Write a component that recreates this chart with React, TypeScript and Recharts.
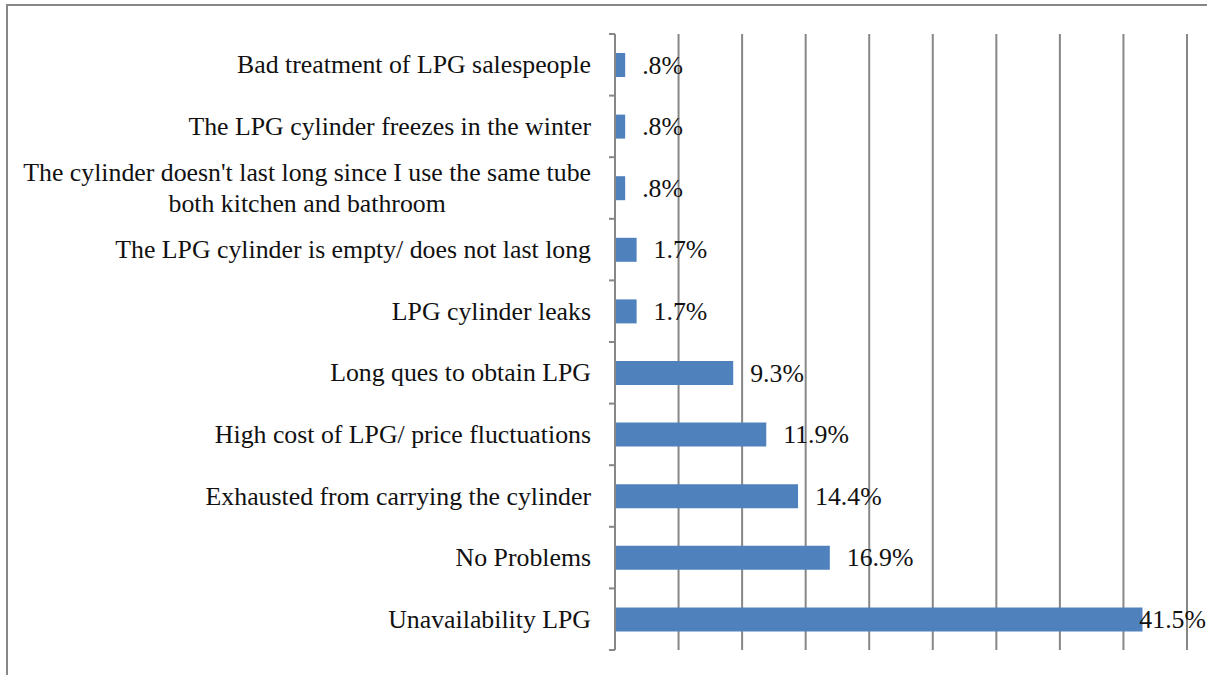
import React, { useLayoutEffect, useRef, useState } from "react";
import { BarChart, Bar, XAxis, YAxis, CartesianGrid, LabelList } from "recharts";

const categories = [
  "Bad treatment of LPG salespeople",
  "The LPG cylinder freezes in the winter",
  "The cylinder doesn't last long since I use the same tube\nboth kitchen and bathroom",
  "The LPG cylinder is empty/ does not last long",
  "LPG cylinder leaks",
  "Long ques to obtain LPG",
  "High cost of LPG/ price fluctuations",
  "Exhausted from carrying the cylinder",
  "No Problems",
  "Unavailability LPG",
];
const values = [0.8, 0.8, 0.8, 1.7, 1.7, 9.3, 11.9, 14.4, 16.9, 41.5];
const xTicks = [0, 5, 10, 15, 20, 25, 30, 35, 40, 45];

const data = categories.map((c, i) => ({ name: c, value: values[i] }));

const W = 1207;
const H = 675;
const M = { top: 34, right: 20, bottom: 25, left: 0 };
const AXIS_W = 615;
const PLOT_H = H - M.top - M.bottom;
const BAND = PLOT_H / categories.length;
const FONT = "'Liberation Serif', 'Times New Roman', serif";
const FS = 25.8;
const GRID = "#878787";

function fmt(v: number) {
  const s = v.toFixed(1);
  return (s.startsWith("0") ? s.slice(1) : s) + "%";
}

function CategoryTick(props: any) {
  const { y, payload, index } = props;
  const axisX = AXIS_W;
  const tx = axisX - 24;
  const lines: string[] = String(payload.value).split("\n");
  const ref = useRef<SVGTextElement>(null);
  const [w1, setW1] = useState(0);
  useLayoutEffect(() => {
    if (ref.current && lines.length > 1) {
      const w = ref.current.getComputedTextLength();
      if (Math.abs(w - w1) > 0.5) setW1(w);
    }
  });
  const lh = 31;
  return (
    <g>
      <line x1={axisX - 6} x2={axisX} y1={y - BAND / 2} y2={y - BAND / 2} stroke={GRID} strokeWidth={2} />
      {index === categories.length - 1 && (
        <line x1={axisX - 6} x2={axisX} y1={y + BAND / 2} y2={y + BAND / 2} stroke={GRID} strokeWidth={2} />
      )}
      {lines.length === 1 ? (
        <text x={tx} y={y} textAnchor="end" dominantBaseline="central" fontFamily={FONT} fontSize={FS} fill="#111">
          {lines[0]}
        </text>
      ) : (
        <g>
          <text ref={ref} x={tx} y={y - lh / 2} textAnchor="end" dominantBaseline="central" fontFamily={FONT} fontSize={FS} fill="#111">
            {lines[0]}
          </text>
          <text x={tx - w1 / 2} y={y + lh / 2} textAnchor="middle" dominantBaseline="central" fontFamily={FONT} fontSize={FS} fill="#111">
            {lines[1]}
          </text>
        </g>
      )}
    </g>
  );
}

function ValueLabel(props: any) {
  const { x, y, width, height, value } = props;
  const end = x + width;
  let lx = end + 17;
  let anchor: "start" | "end" = "start";
  if (lx + 66 > W) {
    lx = W - 1;
    anchor = "end";
  }
  return (
    <text x={lx} y={y + height / 2} textAnchor={anchor} dominantBaseline="central" fontFamily={FONT} fontSize={FS} fill="#111">
      {fmt(value)}
    </text>
  );
}

const EmptyTick = () => <g />;

export default function App() {
  return (
    <div style={{ position: "absolute", left: 0, top: 0, width: W, height: H, overflow: "hidden", background: "#fff" }}>
      <div
        style={{
          position: "absolute",
          left: 6,
          top: 4,
          width: W + 50,
          height: H + 50,
          borderLeft: `2px solid ${GRID}`,
          borderTop: `2px solid ${GRID}`,
          boxSizing: "border-box",
        }}
      />
      <div style={{ position: "absolute", left: 0, top: 0 }}>
        <BarChart width={W} height={H} data={data} layout="vertical" margin={M}>
          <CartesianGrid horizontal={false} vertical={true} stroke={GRID} strokeWidth={2} />
          <XAxis
            type="number"
            domain={[0, 45]}
            ticks={xTicks}
            interval={0}
            height={0}
            tick={(p: any) => <EmptyTick />}
            tickLine={false}
            axisLine={false}
          />
          <YAxis
            type="category"
            dataKey="name"
            width={AXIS_W}
            axisLine={{ stroke: GRID, strokeWidth: 2 }}
            tickLine={false}
            interval={0}
            tick={(p: any) => <CategoryTick {...p} />}
          />
          <Bar dataKey="value" fill="#4F81BD" barSize={24} isAnimationActive={false}>
            <LabelList dataKey="value" content={(p: any) => <ValueLabel {...p} />} />
          </Bar>
        </BarChart>
      </div>
    </div>
  );
}
